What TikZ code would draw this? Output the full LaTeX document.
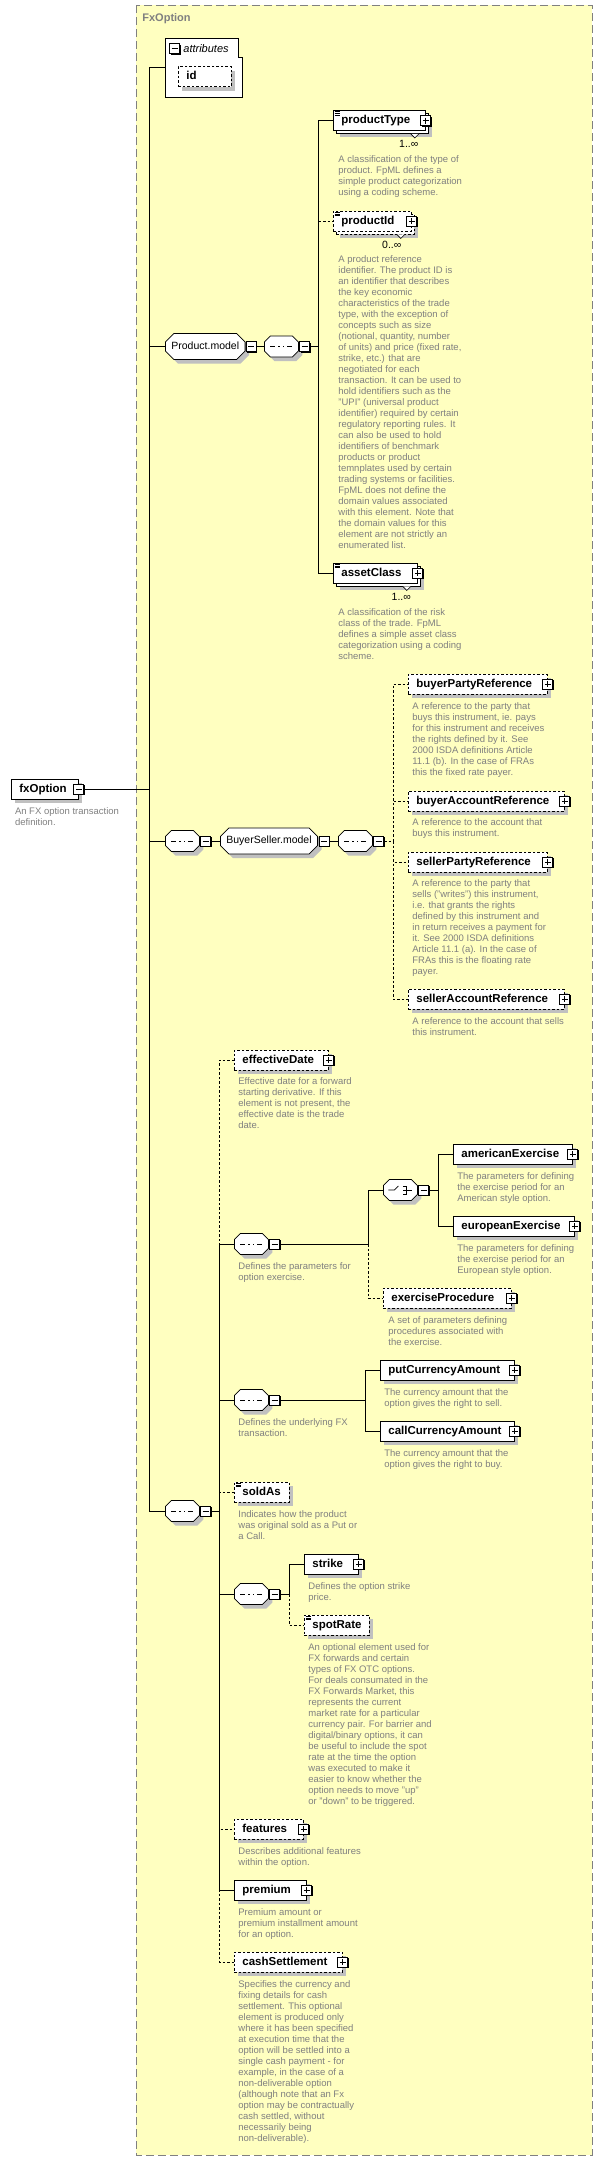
\documentclass[tikz,border=0pt]{standalone}
\usepackage{fontspec}
\setmainfont{Liberation Sans}
\usetikzlibrary{shapes.misc,shadows}

\definecolor{frameyellow}{HTML}{FFFFC0}
\definecolor{framegray}{HTML}{808080}
\definecolor{descgray}{HTML}{808080}
\definecolor{shadowgray}{HTML}{C0C0C0}

\newcommand\elemfont{\fontsize{11.5}{13}\selectfont\bfseries\hyphenpenalty=10000 }
\newcommand\descfont{\fontsize{9.5}{11}\selectfont}
\newcommand\modelfont{\fontsize{10.5}{12}\selectfont}
\newcommand\titlefont{\fontsize{11}{13}\selectfont\bfseries}

\tikzset{
  elembase/.style={draw, fill=white, anchor=west, minimum height=20pt, inner xsep=8pt, inner ysep=0pt,
    text width=#1, align=left, font=\elemfont, text height=8.5pt, text depth=2.5pt},
  elem/.style={elembase=#1, drop shadow={shadow xshift=4pt, shadow yshift=-4pt, fill=shadowgray, opacity=1}},
  multi/.style={elembase=#1, drop shadow={shadow xshift=6.5pt, shadow yshift=-6.5pt, fill=shadowgray, opacity=1},
    copy shadow={shadow xshift=3pt, shadow yshift=-3pt, draw=black, fill=white}},
  opt/.style={dash pattern=on 2.5pt off 2pt},
  iconbase/.style={draw, fill=white, minimum size=10pt, inner sep=0pt,
    general shadow={shadow xshift=1pt, shadow yshift=-1pt, fill=black, opacity=1}},
  plusicon/.style={iconbase, path picture={
    \draw ([xshift=2pt]path picture bounding box.west) -- ([xshift=-2pt]path picture bounding box.east)
          ([yshift=-2pt]path picture bounding box.north) -- ([yshift=2pt]path picture bounding box.south);}},
  minusicon/.style={iconbase, path picture={
    \draw ([xshift=2pt]path picture bounding box.west) -- ([xshift=-2pt]path picture bounding box.east);}},
  octa/.style={chamfered rectangle, chamfered rectangle xsep=5pt, draw, fill=white, anchor=west,
    minimum height=19pt, inner xsep=1pt, inner ysep=4.5pt, font=\modelfont, text height=7.5pt, text depth=2.5pt,
    drop shadow={shadow xshift=4pt, shadow yshift=-4pt, fill=shadowgray, opacity=1}},
  seq/.style={octa, minimum width=34pt, path picture={
    \draw (path picture bounding box.center) +(-11pt,0pt) -- +(11pt,0pt);
    \foreach \d in {-4.5pt,0pt,4.5pt}
      \fill (path picture bounding box.center) ++(\d,0pt) +(-1.5pt,-1.5pt) rectangle +(1.5pt,1.5pt);}},
  choice/.style={octa, minimum width=34pt, path picture={
    \draw (path picture bounding box.center) +(-12pt,0pt) -- +(-6pt,0pt) -- +(-2pt,4pt);
    \foreach \d in {-4pt,0pt,4pt}
      \fill (path picture bounding box.center) ++(1pt,\d) +(-1.2pt,-1.2pt) rectangle +(1.2pt,1.2pt);
    \draw (path picture bounding box.center) +(3pt,4pt) -- +(6pt,4pt) -- +(6pt,-4pt) -- +(3pt,-4pt)
          +(3pt,0pt) -- +(12pt,0pt);}},
  desc/.style={anchor=north west, inner sep=0pt, align=left, text=descgray, font=\descfont,
    execute at begin node={\rule{0pt}{8pt}}},
  mult/.style={anchor=north, inner sep=0pt, font=\modelfont}
}

\begin{document}
\begin{tikzpicture}[x=1pt, y=-1pt, line width=0.8pt]
\useasboundingbox (0,0) rectangle (596,2161);
\draw[framegray, dash pattern=on 8pt off 4pt, fill=frameyellow] (136,5) rectangle (592,2155);
\node[font=\titlefont, text=framegray, anchor=west, inner sep=0pt] (title) at (142,19) {FxOption};

\draw[fill=white] (165,38) -- (238,38) -- (238,57) -- (242,57) -- (242,97) -- (165,97) -- cycle;
\coordinate (attr) at (165,67.5);
\node[minusicon] (attr-m) at (174.5,48.5) {};
\node[anchor=base west, inner sep=0pt, font=\fontsize{11}{13}\selectfont\itshape] (attr-t) at (183,52) {attributes};
\node[elem=37pt, opt] (id) at (178,76.5) {id};

\node[elem=51pt] (fxOption) at (11,789) {fxOption};
\node[desc] (fxOption-d) at (14.6,807.5) {An FX option transaction\\definition.};

\node[octa, minimum width=76pt] (prodModel) at (165,346.5) {Product.model};
\node[seq] (seqP) at (264,346.5) {};
\node[multi=76pt] (productType) at (333,120.5) {productType};
\node[desc] (productType-d) at (338,155.5) {A classification of the type of\\product. FpML defines a\\simple product categorization\\using a coding scheme.};
\node[multi=62pt, opt] (productId) at (333,221) {productId};
\node[desc] (productId-d) at (338,255.5) {A product reference\\identifier. The product ID is\\an identifier that describes\\the key economic\\characteristics of the trade\\type, with the exception of\\concepts such as size\\(notional, quantity, number\\of units) and price (fixed rate,\\strike, etc.) that are\\negotiated for each\\transaction. It can be used to\\hold identifiers such as the\\"UPI" (universal product\\identifier) required by certain\\regulatory reporting rules. It\\can also be used to hold\\identifiers of benchmark\\products or product\\temnplates used by certain\\trading systems or facilities.\\FpML does not define the\\domain values associated\\with this element. Note that\\the domain values for this\\element are not strictly an\\enumerated list.};
\node[multi=68pt] (assetClass) at (333,573) {assetClass};
\node[desc] (assetClass-d) at (338,608.5) {A classification of the risk\\class of the trade. FpML\\defines a simple asset class\\categorization using a coding\\scheme.};

\node[seq] (seqBSa) at (165,841) {};
\node[octa, minimum width=97pt] (bsModel) at (220,841) {BuyerSeller.model};
\node[seq] (seqBSb) at (338,841) {};
\node[elem=123pt, opt] (buyerPartyReference) at (408,684) {buyerPartyReference};
\node[desc] (buyerPartyReference-d) at (412,702.5) {A reference to the party that\\buys this instrument, ie. pays\\for this instrument and receives\\the rights defined by it. See\\2000 ISDA definitions Article\\11.1 (b). In the case of FRAs\\this the fixed rate payer.};
\node[elem=140pt, opt] (buyerAccountReference) at (408,801) {buyerAccountReference};
\node[desc] (buyerAccountReference-d) at (412,818.5) {A reference to the account that\\buys this instrument.};
\node[elem=123pt, opt] (sellerPartyReference) at (408,862) {sellerPartyReference};
\node[desc] (sellerPartyReference-d) at (412,879.5) {A reference to the party that\\sells ("writes") this instrument,\\i.e. that grants the rights\\defined by this instrument and\\in return receives a payment for\\it. See 2000 ISDA definitions\\Article 11.1 (a). In the case of\\FRAs this is the floating rate\\payer.};
\node[elem=140pt, opt] (sellerAccountReference) at (408,999) {sellerAccountReference};
\node[desc] (sellerAccountReference-d) at (412,1017.5) {A reference to the account that sells\\this instrument.};

\node[seq] (seqMain) at (165,1511) {};
\node[elem=78pt, opt] (effectiveDate) at (234,1060) {effectiveDate};
\node[desc] (effectiveDate-d) at (238,1077.5) {Effective date for a forward\\starting derivative. If this\\element is not present, the\\effective date is the trade\\date.};
\node[seq] (seqEx) at (234,1244) {};
\node[desc] (seqEx-d) at (238,1262.5) {Defines the parameters for\\option exercise.};
\node[choice] (choiceEx) at (383,1190) {};
\node[elem=103pt] (americanExercise) at (453,1154) {americanExercise};
\node[desc] (americanExercise-d) at (457,1172.5) {The parameters for defining\\the exercise period for an\\American style option.};
\node[elem=105pt] (europeanExercise) at (453,1226) {europeanExercise};
\node[desc] (europeanExercise-d) at (457,1244.5) {The parameters for defining\\the exercise period for an\\European style option.};
\node[elem=112pt, opt] (exerciseProcedure) at (383,1298) {exerciseProcedure};
\node[desc] (exerciseProcedure-d) at (388,1316.5) {A set of parameters defining\\procedures associated with\\the exercise.};
\node[seq] (seqUnd) at (234,1400) {};
\node[desc] (seqUnd-d) at (238,1418.5) {Defines the underlying FX\\transaction.};
\node[elem=118pt] (putCurrencyAmount) at (380,1370) {putCurrencyAmount};
\node[desc] (putCurrencyAmount-d) at (384,1388.5) {The currency amount that the\\option gives the right to sell.};
\node[elem=118pt] (callCurrencyAmount) at (380,1431) {callCurrencyAmount};
\node[desc] (callCurrencyAmount-d) at (384,1449.5) {The currency amount that the\\option gives the right to buy.};
\node[elem=39pt, opt] (soldAs) at (234,1492) {soldAs};
\node[desc] (soldAs-d) at (238,1510.5) {Indicates how the product\\was original sold as a Put or\\a Call.};
\node[seq] (seqStrike) at (234,1594) {};
\node[elem=38pt] (strike) at (304,1564) {strike};
\node[desc] (strike-d) at (308,1582.5) {Defines the option strike\\price.};
\node[elem=49pt, opt] (spotRate) at (304,1625) {spotRate};
\node[desc] (spotRate-d) at (308,1643.5) {An optional element used for\\FX forwards and certain\\types of FX OTC options.\\For deals consumated in the\\FX Forwards Market, this\\represents the current\\market rate for a particular\\currency pair. For barrier and\\digital/binary options, it can\\be useful to include the spot\\rate at the time the option\\was executed to make it\\easier to know whether the\\option needs to move "up"\\or "down" to be triggered.};
\node[elem=53pt, opt] (features) at (234,1829) {features};
\node[desc] (features-d) at (238,1847.5) {Describes additional features\\within the option.};
\node[elem=56pt] (premium) at (234,1890) {premium};
\node[desc] (premium-d) at (238,1908.5) {Premium amount or\\premium installment amount\\for an option.};
\node[elem=92pt, opt] (cashSettlement) at (234,1962) {cashSettlement};
\node[desc] (cashSettlement-d) at (238,1980.5) {Specifies the currency and\\fixing details for cash\\settlement. This optional\\element is produced only\\where it has been specified\\at execution time that the\\option will be settled into a\\single cash payment - for\\example, in the case of a\\non-deliverable option\\(although note that an Fx\\option may be contractually\\cash settled, without\\necessarily being\\non-deliverable).};

\foreach \n in {productType, productId, assetClass, buyerPartyReference, buyerAccountReference,
    sellerPartyReference, sellerAccountReference, effectiveDate, americanExercise, europeanExercise,
    exerciseProcedure, putCurrencyAmount, callCurrencyAmount, strike, features, premium, cashSettlement}
  \node[plusicon] (\n-p) at (\n.east) {};
\node[minusicon] (fxOption-m) at (fxOption.east) {};
\foreach \n in {prodModel, seqP, seqBSa, bsModel, seqBSb, seqMain, seqEx, choiceEx, seqUnd, seqStrike}
  \node[minusicon, anchor=west] (\n-m) at ([xshift=0.5pt]\n.east) {};
\foreach \n in {productType, productId, assetClass, soldAs, spotRate}
  \foreach \k in {1.5pt,3.2pt,4.9pt}
    \draw[line width=0.6pt] ([xshift=1.5pt,yshift=-\k]\n.north west) -- +(5,0);
\foreach \n/\m/\dx in {productType/1/-17pt, productId/0/-20pt, assetClass/1/-16.5pt} {
  \draw[line width=0.6pt, fill=white] ([xshift=-15pt,yshift=-3pt]\n.south east) -- +(4,4) -- +(8,0);
  \node[mult] (\n-n) at ([xshift=\dx,yshift=-9pt]\n.south east) {\m..∞};
}

\coordinate (busRoot) at (149,789);
\draw (fxOption-m.east) -- (busRoot);
\draw (busRoot) |- (attr);
\draw (busRoot) |- (prodModel.west);
\draw (busRoot) |- (seqBSa.west);
\draw (busRoot) |- (seqMain.west);

\coordinate (busP) at (318,346.5);
\draw (prodModel-m.east) -- (seqP.west);
\draw (seqP-m.east) -- (busP);
\draw[opt] (busP) |- (productId.west);
\draw (busP) |- (productType.west);
\draw (busP) |- (assetClass.west);

\coordinate (busBS) at (393,841);
\draw (seqBSa-m.east) -- (bsModel.west);
\draw (bsModel-m.east) -- (seqBSb.west);
\draw[opt] (seqBSb-m.east) -- (busBS);
\foreach \n in {buyerPartyReference, buyerAccountReference, sellerPartyReference, sellerAccountReference}
  \draw[opt] (busBS) |- (\n.west);

\coordinate (busMain) at (219,1511);
\draw (seqMain-m.east) -- (busMain);
\foreach \n in {effectiveDate, soldAs, features, cashSettlement}
  \draw[opt] (busMain) |- (\n.west);
\foreach \n in {seqEx, seqUnd, seqStrike, premium}
  \draw (busMain) |- (\n.west);

\coordinate (busEx) at (368,1244);
\draw (seqEx-m.east) -- (busEx);
\draw[opt] (busEx) |- (exerciseProcedure.west);
\draw (busEx) |- (choiceEx.west);
\coordinate (busCh) at (438,1190);
\draw (choiceEx-m.east) -- (busCh);
\draw (busCh) |- (americanExercise.west);
\draw (busCh) |- (europeanExercise.west);

\coordinate (busUnd) at (365,1400);
\draw (seqUnd-m.east) -- (busUnd);
\draw (busUnd) |- (putCurrencyAmount.west);
\draw (busUnd) |- (callCurrencyAmount.west);

\coordinate (busSt) at (289,1594);
\draw (seqStrike-m.east) -- (busSt);
\draw[opt] (busSt) |- (spotRate.west);
\draw (busSt) |- (strike.west);
\end{tikzpicture}
\end{document}
